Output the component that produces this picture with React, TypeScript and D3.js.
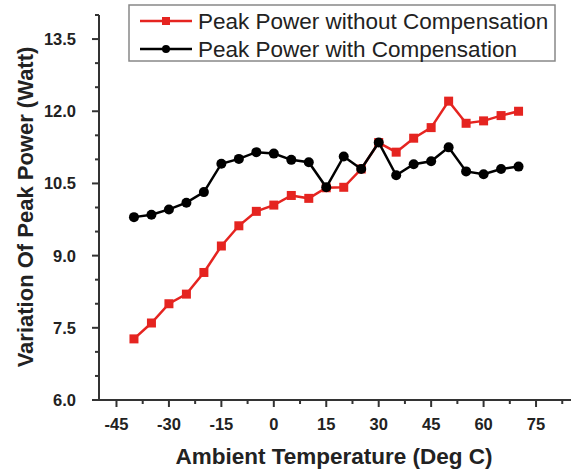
import React from "react";
import * as d3 from "d3";

const temps = [-40, -35, -30, -25, -20, -15, -10, -5, 0, 5, 10, 15, 20, 25, 30, 35, 40, 45, 50, 55, 60, 65, 70];
const withoutComp = [7.27, 7.6, 8.0, 8.2, 8.65, 9.2, 9.62, 9.92, 10.05, 10.25, 10.19, 10.41, 10.42, 10.8, 11.35, 11.15, 11.44, 11.66, 12.21, 11.75, 11.8, 11.91, 12.0];
const withComp = [9.8, 9.85, 9.96, 10.1, 10.32, 10.91, 11.01, 11.15, 11.12, 10.99, 10.94, 10.42, 11.06, 10.8, 11.35, 10.67, 10.9, 10.96, 11.25, 10.75, 10.69, 10.8, 10.85];
const xTicks = [-45, -30, -15, 0, 15, 30, 45, 60, 75];
const yTicks = [6.0, 7.5, 9.0, 10.5, 12.0, 13.5];
const seriesNames = ["Peak Power without Compensation", "Peak Power with Compensation"];

const W = 572, H = 470;
const x = d3.scaleLinear().domain([-50, 85]).range([99, 571]);
const y = d3.scaleLinear().domain([6, 14]).range([400, 15]);
const RED = "#e52420";
const BLACK = "#000";
const AX = "#333";

export default function App() {
  const line = d3.line<number>().x((_, i) => x(temps[i])).y((d) => y(d));
  const xMinor = d3.range(-37.5, 85, 15);
  const yMinor = d3.range(6.5, 14.01, 0.5).filter((v) => Math.abs((v - 6) / 1.5 - Math.round((v - 6) / 1.5)) > 1e-6);
  const font = "'Liberation Sans', Arial, sans-serif";
  return (
    <svg width={W} height={H} style={{ position: "absolute", left: 0, top: 0, background: "#fff" }} fontFamily={font}>
      {/* axes */}
      <line x1={x(-50)} x2={x(85)} y1={y(6)} y2={y(6)} stroke={AX} strokeWidth={2} />
      <line x1={x(-50)} x2={x(-50)} y1={y(6)} y2={y(14)} stroke={AX} strokeWidth={2} />
      {xTicks.map((t) => (
        <g key={"xt" + t}>
          <line x1={x(t)} x2={x(t)} y1={y(6)} y2={y(6) + 7} stroke={AX} strokeWidth={2} />
          <text x={x(t)} y={y(6) + 30} textAnchor="middle" fontSize={16.5} fontWeight="bold" fill="#222">{t}</text>
        </g>
      ))}
      {xMinor.map((t) => (
        <line key={"xm" + t} x1={x(t)} x2={x(t)} y1={y(6)} y2={y(6) + 4} stroke={AX} strokeWidth={2} />
      ))}
      {yTicks.map((t) => (
        <g key={"yt" + t}>
          <line x1={x(-50) - 7} x2={x(-50)} y1={y(t)} y2={y(t)} stroke={AX} strokeWidth={2} />
          <text x={76} y={y(t)} dy="0.36em" textAnchor="end" fontSize={16.5} fontWeight="bold" fill="#222">{t.toFixed(1)}</text>
        </g>
      ))}
      {yMinor.map((t) => (
        <line key={"ym" + t} x1={x(-50) - 4} x2={x(-50)} y1={y(t)} y2={y(t)} stroke={AX} strokeWidth={2} />
      ))}
      {/* axis titles */}
      <text x={334} y={464} textAnchor="middle" fontSize={22.5} fontWeight="bold" fill="#222">Ambient Temperature (Deg C)</text>
      <text transform="translate(33,207) rotate(-90)" textAnchor="middle" fontSize={22} fontWeight="bold" fill="#222">Variation Of Peak Power (Watt)</text>
      {/* series */}
      <path d={line(withoutComp) || ""} fill="none" stroke={RED} strokeWidth={2.5} />
      {withoutComp.map((v, i) => (
        <rect key={"r" + i} x={x(temps[i]) - 4.5} y={y(v) - 4.5} width={9} height={9} fill={RED} />
      ))}
      <path d={line(withComp) || ""} fill="none" stroke={BLACK} strokeWidth={2.5} />
      {withComp.map((v, i) => (
        <circle key={"c" + i} cx={x(temps[i])} cy={y(v)} r={5} fill={BLACK} />
      ))}
      {/* legend */}
      <rect x={129} y={5} width={426} height={56} fill="#fff" stroke="#888" strokeWidth={1.5} />
      <line x1={140} x2={192} y1={21} y2={21} stroke={RED} strokeWidth={2.5} />
      <rect x={162} y={17} width={8} height={8} fill={RED} />
      <text x={198} y={21} dy="0.36em" fontSize={22.5} fill="#222">{seriesNames[0]}</text>
      <line x1={140} x2={192} y1={49} y2={49} stroke={BLACK} strokeWidth={2.5} />
      <circle cx={166} cy={49} r={4} fill={BLACK} />
      <text x={198} y={49} dy="0.36em" fontSize={22.5} fill="#222">{seriesNames[1]}</text>
    </svg>
  );
}
